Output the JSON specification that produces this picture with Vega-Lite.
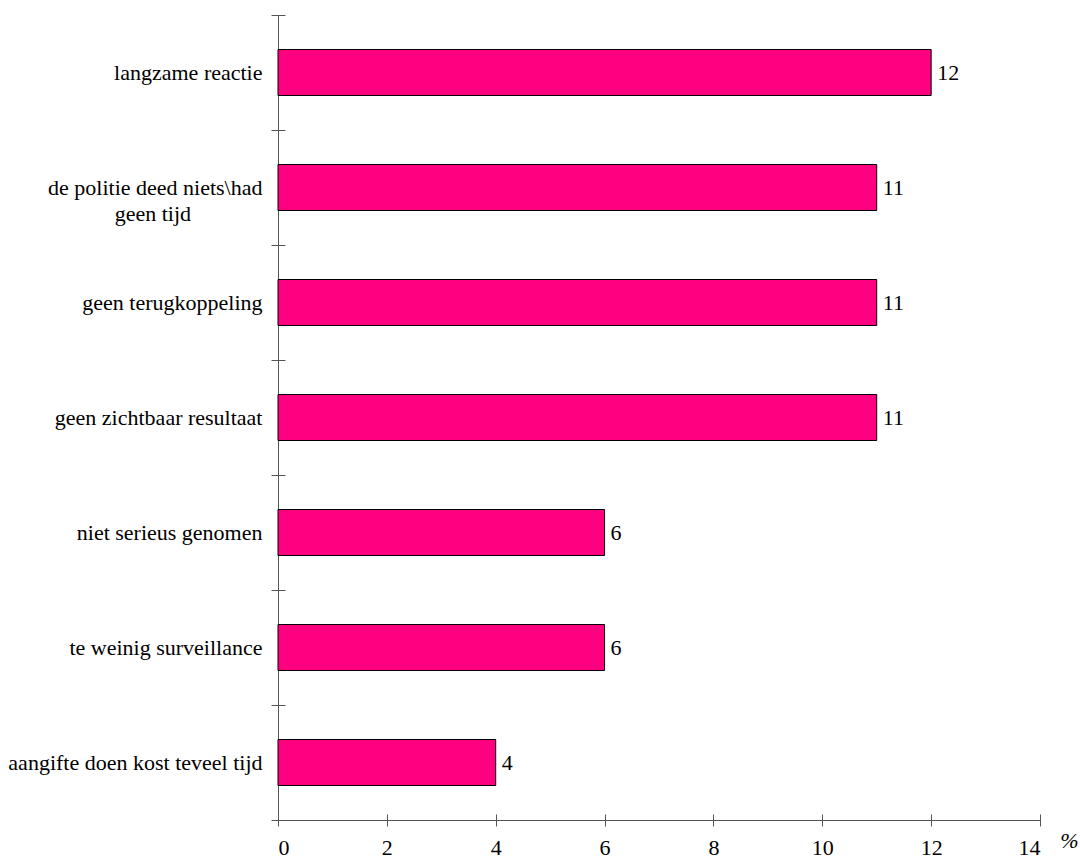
{
  "$schema": "https://vega.github.io/schema/vega-lite/v6.json",
  "width": 762,
  "height": 805,
  "autosize": "none",
  "padding": {"left": 278, "top": 15, "right": 40, "bottom": 39},
  "background": "white",
  "config": {
    "font": "Liberation Serif",
    "view": {"stroke": null},
    "axis": {
      "labelFont": "Liberation Serif",
      "labelFontSize": 22,
      "labelColor": "#000",
      "domain": false,
      "tickColor": "#555",
      "gridColor": "#555",
      "gridWidth": 1
    }
  },
  "data": {
    "values": [
      {"cat": "langzame reactie", "v": 12},
      {"cat": "de politie deed niets\\had|geen tijd", "v": 11},
      {"cat": "geen terugkoppeling", "v": 11},
      {"cat": "geen zichtbaar resultaat", "v": 11},
      {"cat": "niet serieus genomen", "v": 6},
      {"cat": "te weinig surveillance", "v": 6},
      {"cat": "aangifte doen kost teveel tijd", "v": 4}
    ]
  },
  "encoding": {
    "y": {
      "field": "cat", "type": "nominal", "sort": null,
      "scale": {"paddingInner": 0, "paddingOuter": 0},
      "axis": {
        "orient": "left", "title": null, "tickBand": "extent",
        "offset": -7, "tickSize": 14,
        "labelPadding": 9, "labelLimit": 0, "labelLineHeight": 26,
        "grid": true,
        "gridOpacity": {"condition": {"test": "datum.value === 'aangifte doen kost teveel tijd'", "value": 1}, "value": 0},
        "labelExpr": "length(split(datum.label,'|'))>1 ? [split(datum.label,'|')[0], split(datum.label,'|')[1] + '\u00a0\u00a0\u00a0\u00a0\u00a0\u00a0\u00a0\u00a0\u00a0\u00a0\u00a0\u00a0\u00a0\u2060'] : datum.label"
      }
    },
    "x": {
      "field": "v", "type": "quantitative",
      "scale": {"domain": [0, 14], "nice": false},
      "axis": {
        "orient": "bottom", "values": [0, 2, 4, 6, 8, 10, 12, 14],
        "offset": -6, "tickSize": 12, "labelPadding": 11,
        "grid": true,
        "gridOpacity": {"condition": {"test": "datum.value === 0", "value": 1}, "value": 0},
        "title": "%", "titleFont": "Liberation Serif", "titleFontSize": 22,
        "titleFontStyle": "italic", "titleFontWeight": "normal", "titleColor": "#000",
        "titleX": 791, "titleY": 26, "titleAlign": "center", "titleBaseline": "middle", "titleAngle": 0
      }
    }
  },
  "layer": [
    {
      "mark": {"type": "bar", "fill": "#ff0080", "stroke": "#000", "strokeWidth": 1, "height": {"band": 0.4}}
    },
    {
      "mark": {"type": "text", "align": "left", "baseline": "middle", "dx": 6, "fontSize": 22, "font": "Liberation Serif", "color": "#000"},
      "encoding": {
        "text": {"field": "v", "type": "quantitative"}
      }
    }
  ]
}
